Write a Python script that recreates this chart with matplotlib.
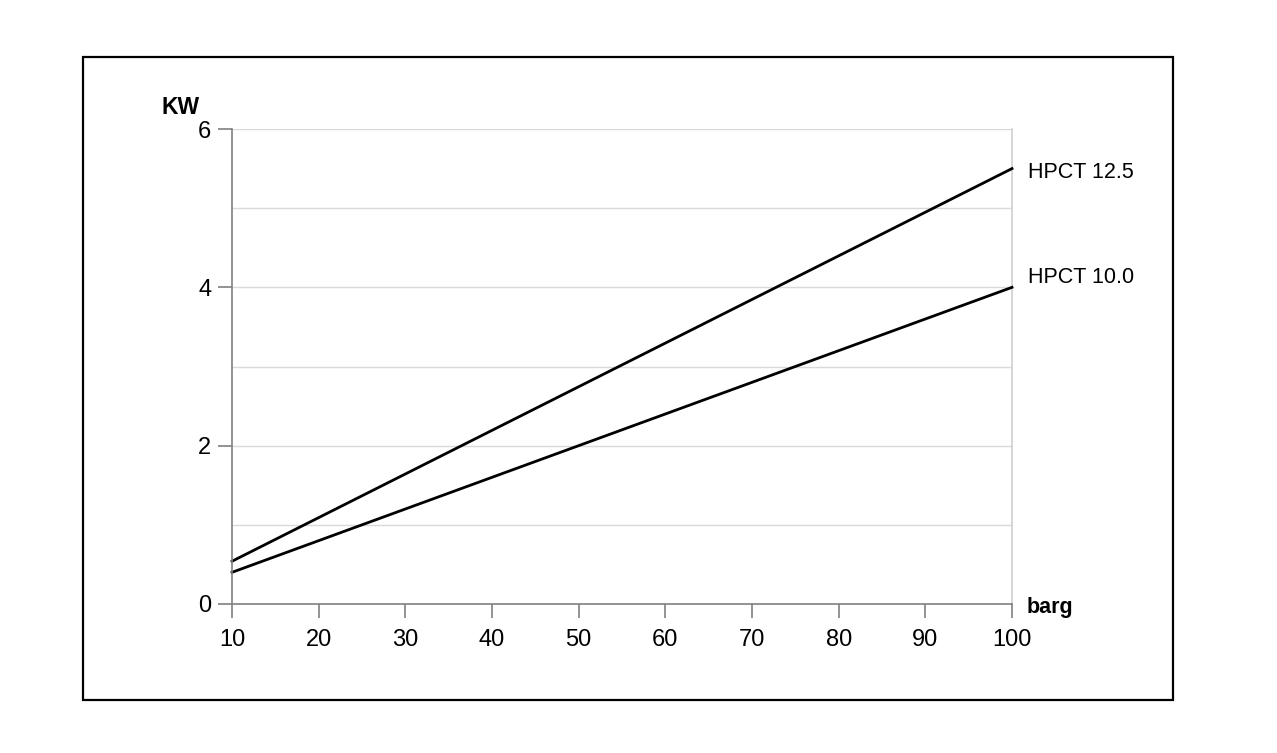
"""Power vs pressure for HPCT units"""
import matplotlib.pyplot as plt
from matplotlib.patches import Rectangle

plt.rcParams['font.family'] = ['Liberation Sans', 'DejaVu Sans']

# Данные
pressure = [10, 100]
hpct_125 = [0.54, 5.5]
hpct_100 = [0.4, 4.0]
series_names = ["HPCT 12.5", "HPCT 10.0"]
label_y = [5.45, 4.13]
x_ticks = [10, 20, 30, 40, 50, 60, 70, 80, 90, 100]
y_ticks = [0, 2, 4, 6]
y_grid = [1, 2, 3, 4, 5, 6]

fig = plt.figure(figsize=(12.77, 7.53), dpi=100)
ax = fig.add_axes([232 / 1277, 149 / 753, 780 / 1277, 475 / 753])

# Рамка вокруг графика
fig.patches.append(Rectangle((83 / 1277, 53 / 753), 1090 / 1277, 643 / 753,
                             transform=fig.transFigure, fill=False,
                             edgecolor='black', linewidth=1.6))

for gy in y_grid:
    ax.axhline(gy, color='#d9d9d9', linewidth=1, zorder=0)
ax.axvline(100, color='#cfcfcf', linewidth=1.2, zorder=0, clip_on=False)

ax.plot(pressure, hpct_125, color='black', linewidth=2, clip_on=False)
ax.plot(pressure, hpct_100, color='black', linewidth=2, clip_on=False)

for name, yv in zip(series_names, label_y):
    ax.text(101.8, yv, name, fontsize=15.5, va='center', ha='left')

ax.set_xlim(10, 100)
ax.set_ylim(0, 6)
ax.set_xticks(x_ticks)
ax.set_yticks(y_ticks)
ax.tick_params(axis='both', direction='out', length=10, width=1.2,
               color='#808080', labelsize=17)
ax.tick_params(axis='x', pad=8)
ax.tick_params(axis='y', pad=5)

for side in ['top', 'right']:
    ax.spines[side].set_visible(False)
for side in ['left', 'bottom']:
    ax.spines[side].set_color('#808080')
    ax.spines[side].set_linewidth(1.2)

ax.text(-0.09, 1.045, "KW", transform=ax.transAxes, fontsize=16.5,
        fontweight='bold', ha='left', va='center')
ax.text(1.019, -0.008, "barg", transform=ax.transAxes, fontsize=15.5,
        fontweight='bold', ha='left', va='center')

fig.savefig("out.png", dpi=100)
